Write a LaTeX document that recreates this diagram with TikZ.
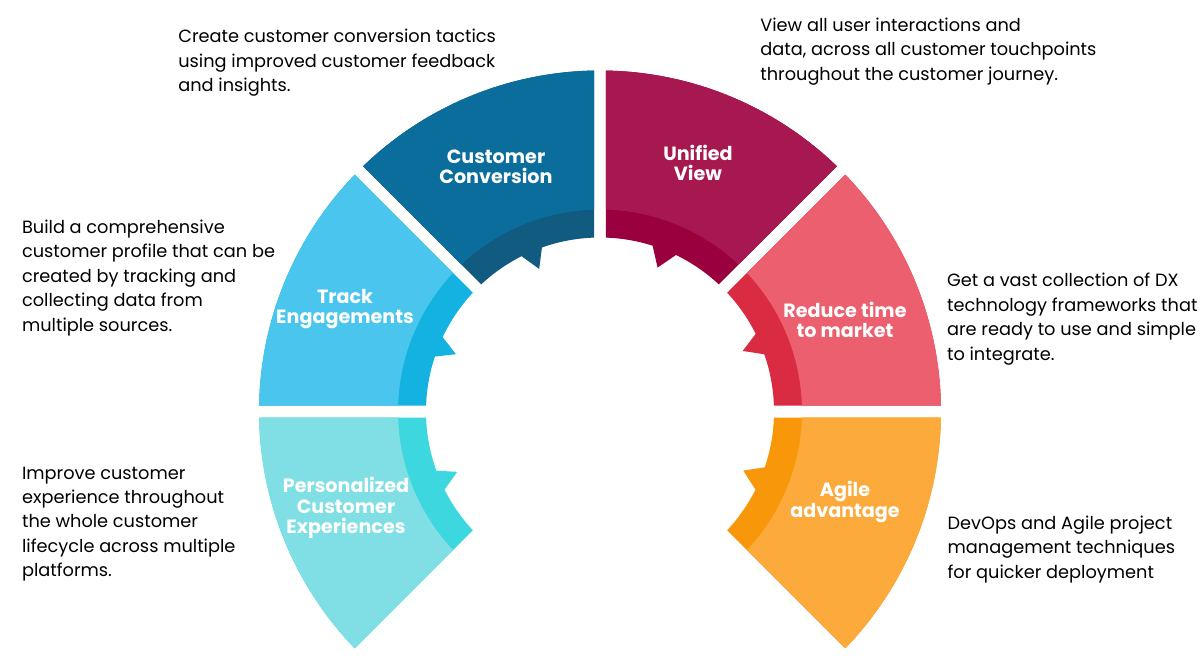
\documentclass[tikz,border=0pt]{standalone}
\usepackage{fontspec}
\setmainfont{Poppins}
\usetikzlibrary{positioning}

\definecolor{convLight}{HTML}{0A6D9C}
\definecolor{convDark}{HTML}{115A80}
\definecolor{viewLight}{HTML}{A6184F}
\definecolor{viewDark}{HTML}{9A003D}
\definecolor{trackLight}{HTML}{4AC6EE}
\definecolor{trackDark}{HTML}{13B2E0}
\definecolor{persLight}{HTML}{80DFE5}
\definecolor{persDark}{HTML}{3DD7DF}
\definecolor{timeLight}{HTML}{EC5F6F}
\definecolor{timeDark}{HTML}{D92B42}
\definecolor{agileLight}{HTML}{FBAA3B}
\definecolor{agileDark}{HTML}{F9970A}

\tikzset{
  seglabel/.style={font=\fontsize{10.9}{11.5}\selectfont\bfseries, text=white, align=center, inner sep=0pt},
  desc/.style={font=\fontsize{10.1}{13.9}\selectfont, anchor=base west, align=left, inner sep=0pt},
}

\begin{document}
\begin{tikzpicture}[x=0.02cm, y=0.02cm]
\useasboundingbox (-600,-255.5) rectangle (600,411.5);

% --- ring segments: start/end angle, tooth angles, colours ---
\foreach \a/\b/\ta/\tb/\tc/\lc/\dc in {
    90/135/109.5/113.1/116.8/convLight/convDark,
    45/90/64.1/68.2/72.4/viewLight/viewDark,
    135/180/154.7/158.3/161.6/trackLight/trackDark,
    180/225/199.9/202.9/206.7/persLight/persDark,
    0/45/19.2/23/26.5/timeLight/timeDark,
    -45/0/-26.7/-22.4/-18.7/agileLight/agileDark} {
  % inner band with the tooth
  \fill[\dc] ({\a+1.008}:341) arc[start angle={\a+1.008}, end angle={\b-1.008}, radius=341]
    -- ({\b-1.976}:174) arc[start angle={\b-1.976}, end angle=\tc, radius=174]
    -- (\tb:155) -- (\ta:174)
    arc[start angle=\ta, end angle={\a+1.976}, radius=174] -- cycle;
  % outer part
  \fill[\lc] ({\a+1.008}:341) arc[start angle={\a+1.008}, end angle={\b-1.008}, radius=341]
    -- ({\b-1.70}:202) arc[start angle={\b-1.70}, end angle={\a+1.70}, radius=202] -- cycle;
}

% --- labels on the ring ---
\node[seglabel] (convlabel) at (-104,244.5) {Customer\\Conversion};
\node[seglabel] (viewlabel) at (98,248.5) {Unified\\View};
\node[seglabel] (tracklabel) at (-255,102.5) {Track\\Engagements};
\node[seglabel] (timelabel) at (245,91.5) {Reduce time\\to market};
\node[seglabel] (perslabel) at (-254,-96.5) {Personalized\\Customer\\Experiences};
\node[seglabel] (agilelabel) at (245,-90.5) {Agile\\advantage};

% --- descriptions (anchored at the last line) ---
\node[desc] (convdesc) at (-422,319.8) {Create customer conversion tactics\\using improved customer feedback\\and insights.};
\node[desc] (viewdesc) at (160,331.5) {View all user interactions and\\data, across all customer touchpoints\\throughout the customer journey.};
\node[desc] (trackdesc) at (-578.3,80.5) {Build a comprehensive\\customer profile that can be\\created by tracking and\\collecting data from\\multiple sources.};
\node[desc] (timedesc) at (346.7,51.5) {Get a vast collection of DX\\technology frameworks that\\are ready to use and simple\\to integrate.};
\node[desc] (persdesc) at (-578.3,-165.2) {Improve customer\\experience throughout\\the whole customer\\lifecycle across multiple\\platforms.};
\node[desc] (agiledesc) at (347.3,-166.8) {DevOps and Agile project\\management techniques\\for quicker deployment};

\end{tikzpicture}
\end{document}
